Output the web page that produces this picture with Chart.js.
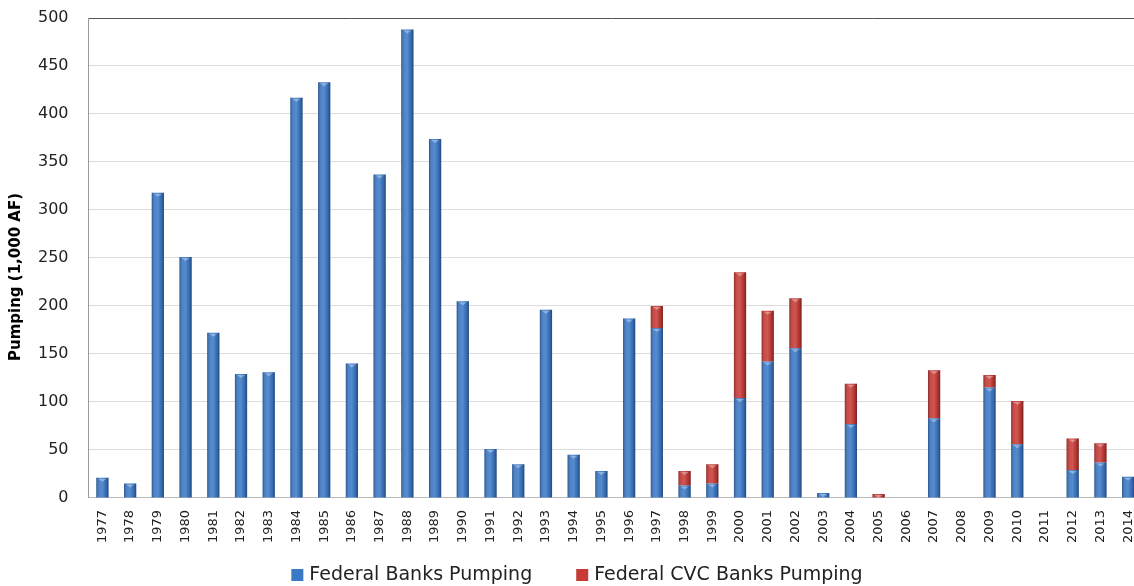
<!DOCTYPE html>
<html>
<head>
<meta charset="utf-8">
<script src="https://cdn.jsdelivr.net/npm/chart.js@4"></script>
<style>
  html, body { margin: 0; padding: 0; background: #fff; }
  #grafico { display: block; }
</style>
</head>
<body>
<canvas id="grafico" width="1134" height="586"></canvas>
<script>
// anos (categorias)
const anos = ["1977","1978","1979","1980","1981","1982","1983","1984","1985","1986",
  "1987","1988","1989","1990","1991","1992","1993","1994","1995","1996",
  "1997","1998","1999","2000","2001","2002","2003","2004","2005","2006",
  "2007","2008","2009","2010","2011","2012","2013","2014"];

// bombeamento federal (1,000 AF)
const federal = [21, 15, 318, 251, 172, 129, 131, 417, 433, 140,
  337, 488, 374, 205, 51, 35, 196, 45, 28, 187,
  177, 13, 15, 104, 142, 156, 5, 77, 0, 0,
  83, 0, 115, 56, 0, 29, 37, 22];

// bombeamento federal CVC (1,000 AF)
const federalCVC = [0, 0, 0, 0, 0, 0, 0, 0, 0, 0,
  0, 0, 0, 0, 0, 0, 0, 0, 0, 0,
  23, 15, 20, 131, 53, 52, 0, 42, 4, 0,
  50, 0, 13, 45, 0, 33, 20, 0];

const yTicks = [0, 50, 100, 150, 200, 250, 300, 350, 400, 450, 500];
const tituloY = "Pumping (1,000 AF)";

const fonte = "'DejaVu Sans', sans-serif";

// efeito "cilindro" por cima das barras
const brilhoBarras = {
  id: "brilhoBarras",
  afterDatasetsDraw(chart) {
    const ctx = chart.ctx;
    chart.data.datasets.forEach((ds, i) => {
      const meta = chart.getDatasetMeta(i);
      meta.data.forEach(bar => {
        const p = bar.getProps(["x", "y", "base", "width"], true);
        const h = p.base - p.y;
        if (h < 1) return;
        const left = p.x - p.width / 2;
        const g = ctx.createLinearGradient(left, 0, left + p.width, 0);
        g.addColorStop(0, "rgba(0,0,0,0.30)");
        g.addColorStop(0.3, "rgba(255,255,255,0.10)");
        g.addColorStop(0.5, "rgba(255,255,255,0.14)");
        g.addColorStop(0.8, "rgba(0,0,0,0.10)");
        g.addColorStop(1, "rgba(0,0,0,0.40)");
        ctx.save();
        ctx.fillStyle = g;
        ctx.fillRect(left, p.y, p.width, h);
        // pequena tampa clara no topo
        if (h > 3) {
          ctx.fillStyle = "rgba(255,255,255,0.35)";
          ctx.beginPath();
          ctx.moveTo(left + 2, p.y + 1);
          ctx.lineTo(left + p.width - 2, p.y + 1);
          ctx.lineTo(p.x, p.y + 4);
          ctx.closePath();
          ctx.fill();
        }
        ctx.restore();
      });
    });
  }
};

// o eixo x do original passa um pouco da borda direita da imagem
const esticarEixoX = {
  id: "esticarEixoX",
  afterLayout(chart) {
    const x = chart.scales.x;
    x.right = chart.chartArea.right + 8;
    x.width = x.right - x.left;
    x.configure();
  }
};

// título do eixo y e legenda desenhados à mão (posição igual ao original)
const textosExtras = {
  id: "textosExtras",
  afterDraw(chart) {
    const ctx = chart.ctx;
    ctx.save();
    // título do eixo y
    ctx.translate(16, 277);
    ctx.rotate(-Math.PI / 2);
    ctx.font = "bold 15px " + fonte;
    ctx.fillStyle = "#000";
    ctx.textAlign = "center";
    ctx.textBaseline = "middle";
    ctx.fillText(tituloY, 0, 0);
    ctx.restore();

    // legenda
    ctx.save();
    ctx.font = "19px " + fonte;
    ctx.textBaseline = "middle";
    ctx.textAlign = "left";
    const box = 12, gapTexto = 6, gapItens = 44, yLeg = 575;
    const itens = chart.data.datasets.map(ds => ({ texto: ds.label, cor: ds.backgroundColor }));
    const larguras = itens.map(it => box + gapTexto + ctx.measureText(it.texto).width);
    const total = larguras.reduce((a, b) => a + b, 0) + gapItens * (itens.length - 1);
    let x = 577 - total / 2;
    itens.forEach((it, i) => {
      ctx.fillStyle = it.cor;
      ctx.fillRect(x, yLeg - box / 2, box, box);
      ctx.fillStyle = "#222";
      ctx.fillText(it.texto, x + box + gapTexto, yLeg);
      x += larguras[i] + gapItens;
    });
    ctx.restore();
  }
};

const ctx = document.getElementById("grafico").getContext("2d");
new Chart(ctx, {
  type: "bar",
  data: {
    labels: anos,
    datasets: [{
      label: "Federal Banks Pumping",
      data: federal,
      backgroundColor: "#3b78c6",
      borderWidth: 0,
      barPercentage: 0.88,
      categoryPercentage: 0.5
    }, {
      label: "Federal CVC Banks Pumping",
      data: federalCVC,
      backgroundColor: "#c73a35",
      borderWidth: 0,
      barPercentage: 0.88,
      categoryPercentage: 0.5
    }]
  },
  options: {
    responsive: false,
    animation: false,
    layout: { padding: { top: 18, right: 0, left: 18, bottom: 39 } },
    plugins: {
      legend: { display: false },
      tooltip: { enabled: false }
    },
    scales: {
      x: {
        stacked: true,
        afterFit: s => { s.paddingLeft = 0; s.paddingRight = 0; },
        grid: { display: false },
        border: { color: "#bbb" },
        ticks: {
          font: { family: fonte, size: 13 },
          color: "#222",
          minRotation: 90,
          maxRotation: 90,
          autoSkip: false,
          padding: 4
        }
      },
      y: {
        stacked: true,
        min: 0,
        max: 500,
        afterFit: s => { s.paddingTop = 0; s.paddingBottom = 0; },
        afterBuildTicks: axis => { axis.ticks = yTicks.map(v => ({ value: v })); },
        grid: {
          color: c => (c.tick && c.tick.value === 500 ? "#555" : "#dcdcdc"),
          drawTicks: false
        },
        border: { color: "#999" },
        ticks: {
          font: { family: fonte, size: 16 },
          color: "#222",
          padding: 20
        }
      }
    }
  },
  plugins: [esticarEixoX, brilhoBarras, textosExtras]
});
</script>
</body>
</html>
